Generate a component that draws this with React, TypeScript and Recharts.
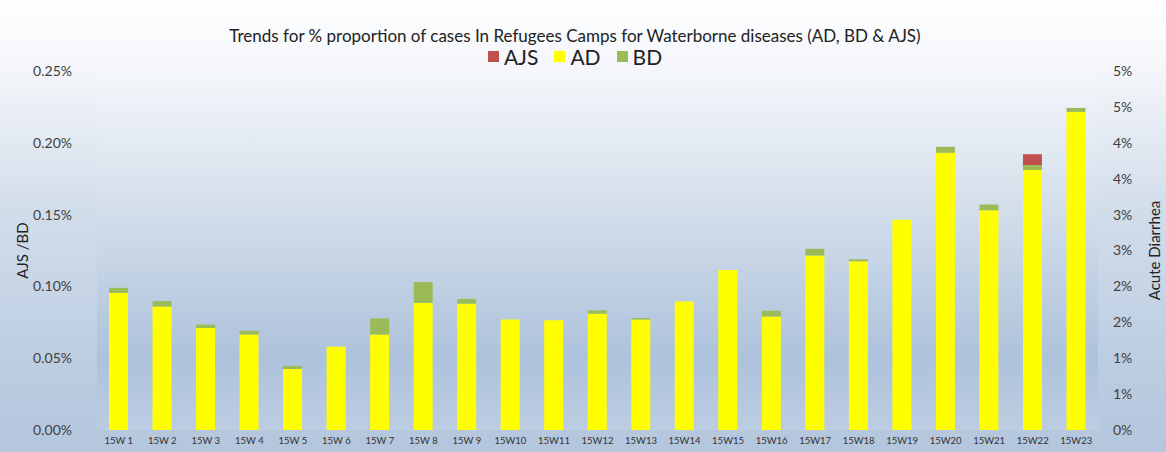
import { ComposedChart, Bar, Line, XAxis, YAxis, Legend, CartesianGrid } from 'recharts';

const weeks = [
  '15W 1', '15W 2', '15W 3', '15W 4', '15W 5', '15W 6', '15W 7', '15W 8', '15W 9', '15W10', '15W11', '15W12',
  '15W13', '15W14', '15W15', '15W16', '15W17', '15W18', '15W19', '15W20', '15W21', '15W22', '15W23',
];

// Acute Diarrhea, % (right axis)
const ad = [
  1.91, 1.72, 1.42, 1.33, 0.85, 1.16, 1.33, 1.77, 1.76, 1.54, 1.53, 1.62,
  1.54, 1.79, 2.23, 1.58, 2.43, 2.35, 2.93, 3.86, 3.06, 3.62, 4.43,
];

// Bloody Diarrhea, % (left axis)
const bd = [
  0.0035, 0.0038, 0.0024, 0.0026, 0.0021, 0.0, 0.0112, 0.0145, 0.0033, 0.0, 0.0, 0.0023,
  0.001, 0.0, 0.0, 0.004, 0.0047, 0.0014, 0.0, 0.0042, 0.004, 0.0035, 0.0028,
];

// Acute Jaundice Syndrome, % (left axis)
const ajs = [
  0, 0, 0, 0, 0, 0, 0, 0, 0, 0, 0, 0,
  0, 0, 0, 0, 0, 0, 0, 0, 0, 0.0075, 0,
];

const leftTicks = [0, 0.05, 0.1, 0.15, 0.2, 0.25];
const rightTicks = [0, 0.5, 1, 1.5, 2, 2.5, 3, 3.5, 4, 4.5, 5];

const LEFT_MAX = 0.25;
const RIGHT_MAX = 5;

const legendItems = [
  { name: 'AJS', color: '#c0504d' },
  { name: 'AD', color: '#ffff00' },
  { name: 'BD', color: '#9bbb59' },
];

// AD is stacked with BD/AJS, so it's converted to left-axis units for the bars;
// the raw value stays on the right axis (invisible line) so that axis gets its scale
const data = weeks.map((w, i) => ({
  week: w,
  AD: ad[i] * (LEFT_MAX / RIGHT_MAX),
  BD: bd[i],
  AJS: ajs[i],
  ADright: ad[i],
}));

const font = 'Lato, "Open Sans", sans-serif';

function LegendBox() {
  return (
    <div style={{ display: 'flex', justifyContent: 'center', gap: 16, fontFamily: font, fontSize: 21, color: '#222' }}>
      {legendItems.map((it) => (
        <div key={it.name} style={{ display: 'flex', alignItems: 'center', gap: 5 }}>
          <span style={{ width: 11, height: 11, background: it.color, display: 'inline-block' }} />
          <span>{it.name}</span>
        </div>
      ))}
    </div>
  );
}

export default function App() {
  return (
    <div
      style={{
        position: 'absolute',
        left: 0,
        top: 0,
        width: 1166,
        height: 452,
        overflow: 'hidden',
        background: 'linear-gradient(to bottom, #ffffff 0%, #f4f6fa 15%, #d3deeb 45%, #bfcfe3 75%, #b4c6dd 100%)',
      }}
    >
      <div
        style={{
          position: 'absolute',
          top: 25,
          left: 0,
          width: 1150,
          textAlign: 'center',
          fontFamily: font,
          fontSize: 17,
          color: '#222',
        }}
      >
        Trends for % proportion of cases In Refugees Camps for Waterborne diseases (AD, BD &amp; AJS)
      </div>
      <ComposedChart
        width={1166}
        height={452}
        data={data}
        margin={{ top: 71, right: 0, bottom: 0, left: 0 }}
        barSize={19}
      >
        <defs>
          <linearGradient id="plotBg" x1="0" y1="0" x2="0" y2="1">
            <stop offset="0%" stopColor="#f5f7fb" />
            <stop offset="40%" stopColor="#d2ddea" />
            <stop offset="80%" stopColor="#adc2db" />
            <stop offset="100%" stopColor="#bccde2" />
          </linearGradient>
        </defs>
        <CartesianGrid horizontal={false} vertical={false} fill="url(#plotBg)" />
        <XAxis
          dataKey="week"
          height={22}
          interval={0}
          tickLine={false}
          axisLine={false}
          tickSize={0}
          tickMargin={7}
          tick={{ fontSize: 9.5, fill: '#333', fontFamily: font }}
        />
        <YAxis
          yAxisId="left"
          width={97}
          domain={[0, LEFT_MAX]}
          ticks={leftTicks}
          tickFormatter={(v: number) => `${v.toFixed(2)}%`}
          tickLine={false}
          axisLine={false}
          tickSize={0}
          tickMargin={25}
          tick={{ fontSize: 14, fill: '#404040', fontFamily: font }}
          label={{ value: 'AJS /BD', angle: -90, position: 'center', dx: -26, fontSize: 15, fill: '#222', fontFamily: font }}
        />
        <YAxis
          yAxisId="right"
          orientation="right"
          width={68}
          domain={[0, RIGHT_MAX]}
          ticks={rightTicks}
          tickFormatter={(v: number) => `${Math.round(v)}%`}
          tickLine={false}
          axisLine={false}
          tickSize={0}
          tickMargin={15}
          tick={{ fontSize: 14, fill: '#404040', fontFamily: font, textAnchor: 'start' }}
          label={{ value: 'Acute Diarrhea', angle: -90, position: 'center', dx: 23, fontSize: 15, fill: '#222', fontFamily: font }}
        />
        <Legend
          verticalAlign="middle"
          wrapperStyle={{ top: 44, left: 0, width: 1150 }}
          content={() => <LegendBox />}
        />
        <Bar yAxisId="left" dataKey="AD" stackId="s" fill="#ffff00" isAnimationActive={false} />
        <Bar yAxisId="left" dataKey="BD" stackId="s" fill="#9bbb59" isAnimationActive={false} />
        <Bar yAxisId="left" dataKey="AJS" stackId="s" fill="#c0504d" isAnimationActive={false} />
        <Line
          yAxisId="right"
          dataKey="ADright"
          stroke="none"
          dot={false}
          activeDot={false}
          legendType="none"
          isAnimationActive={false}
        />
      </ComposedChart>
    </div>
  );
}
